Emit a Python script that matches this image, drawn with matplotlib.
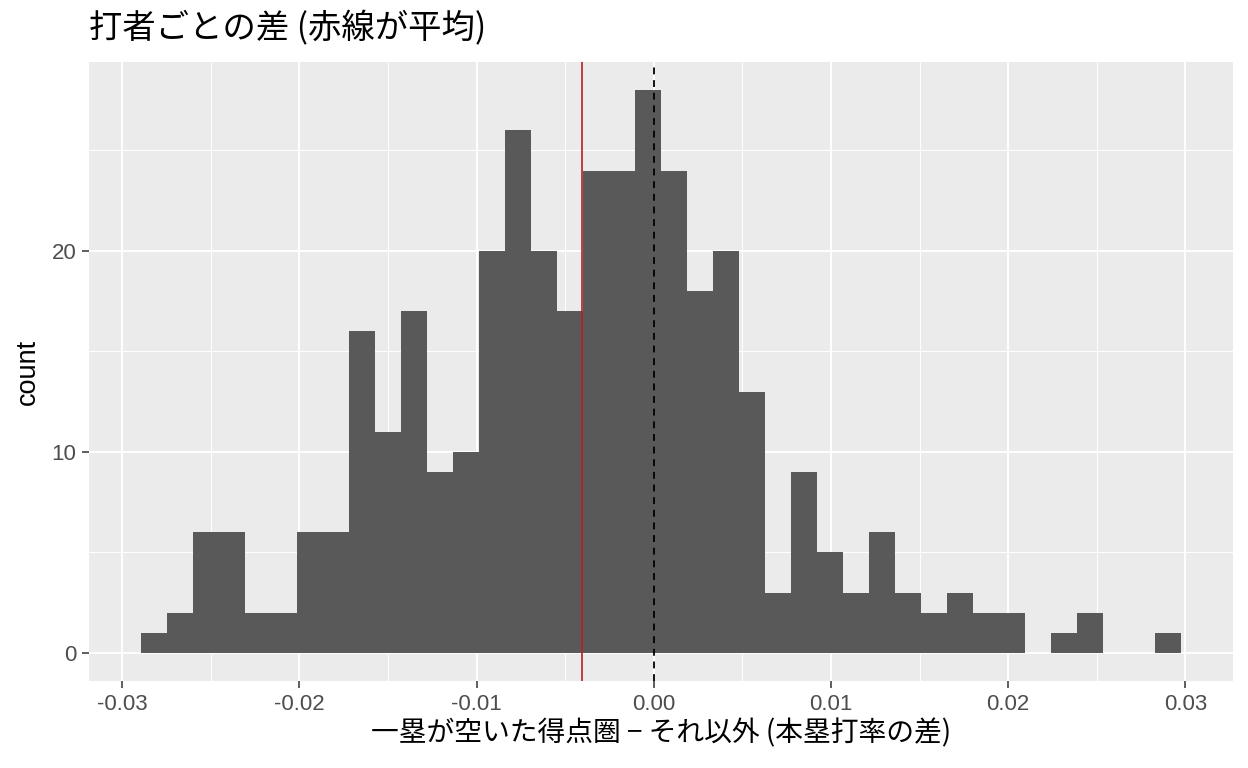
import matplotlib
matplotlib.use("Agg")
import matplotlib.pyplot as plt
import numpy as np

# ---- data ----
bin_start = -0.02893
bin_width = 0.001467
counts = [1, 2, 6, 6, 2, 2, 6, 6, 16, 11,
          17, 9, 10, 20, 26, 20, 17, 24, 24, 28,
          24, 18, 20, 13, 3, 9, 5, 3, 6, 3,
          2, 3, 2, 2, 0, 1, 2, 0, 0, 1]
mean_line = -0.00404
zero_line = 0.0
x_ticks = [-0.03, -0.02, -0.01, 0.00, 0.01, 0.02, 0.03]
x_tick_labels = ["-0.03", "-0.02", "-0.01", "0.00", "0.01", "0.02", "0.03"]
y_ticks = [0, 10, 20]
title = "打者ごとの差 (赤線が平均)"
xlabel = "一塁が空いた得点圏 − それ以外 (本塁打率の差)"
ylabel = "count"

JP = ["Noto Sans CJK JP", "Liberation Sans", "DejaVu Sans"]
LAT = ["Liberation Sans", "DejaVu Sans"]

W, H = 1248, 768
fig = plt.figure(figsize=(W / 100, H / 100), dpi=100)
L, R, T, B = 89, 1233, 62, 681
ax = fig.add_axes([L / W, 1 - B / H, (R - L) / W, (B - T) / H])
ax.set_facecolor("#EBEBEB")

edges = bin_start + bin_width * np.arange(len(counts) + 1)
ax.bar(edges[:-1], counts, width=bin_width, align="edge",
       color="#595959", linewidth=0, zorder=2)

ax.axvline(mean_line, color="#B22222", lw=1.2, zorder=3)
ax.axvline(zero_line, color="black", lw=1.3, linestyle=(0, (3.8, 3.2)), zorder=3)

lo, hi = edges[0], edges[-1]
pad = (hi - lo) * 0.05
ax.set_xlim(lo - pad, hi + pad)
ax.set_ylim(-1.4, 29.4)

ax.set_xticks(x_ticks)
ax.set_xticklabels(x_tick_labels)
ax.set_yticks(y_ticks)
ax.set_xticks([-0.025, -0.015, -0.005, 0.005, 0.015, 0.025], minor=True)
ax.set_yticks([5, 15, 25], minor=True)

ax.grid(which="major", color="white", lw=1.4, zorder=1)
ax.grid(which="minor", color="white", lw=0.7, zorder=1)
ax.set_axisbelow(True)
for s in ax.spines.values():
    s.set_visible(False)

ax.tick_params(axis="both", which="major", length=5, width=1.1, color="#333333",
               labelcolor="#4D4D4D", labelsize=16, pad=4)
ax.tick_params(axis="both", which="minor", length=0)
for lab in ax.get_xticklabels() + ax.get_yticklabels():
    lab.set_family(LAT)

ax.set_xlabel(xlabel, family=JP, fontsize=20, color="black", labelpad=3)
ax.set_ylabel(ylabel, family=LAT, fontsize=19.5, color="black", labelpad=8)

fig.text(L / W, 1 - 29 / H, title, family=JP, fontsize=24, color="black",
         ha="left", va="center")

fig.savefig("out.png", dpi=100)
